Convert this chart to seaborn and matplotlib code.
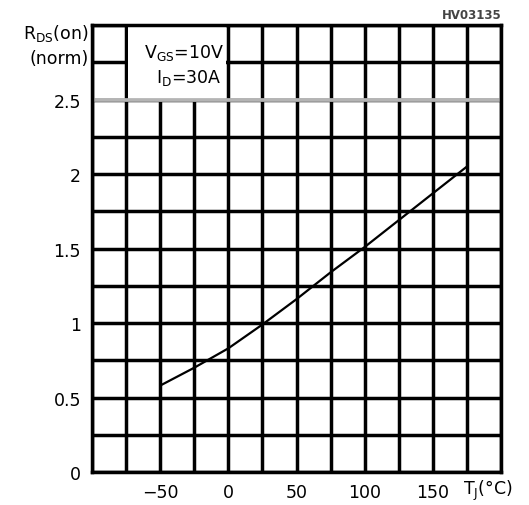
import numpy as np
import pandas as pd
import seaborn as sns
import matplotlib.pyplot as plt
from matplotlib.patches import Rectangle

# normalized on-resistance vs junction temperature
temp_c = [-50, -25, 0, 25, 50, 75, 100, 125, 150, 175]
rds_norm = [0.58, 0.70, 0.83, 0.99, 1.16, 1.34, 1.51, 1.69, 1.87, 2.05]

x_ticks = [-50, 0, 50, 100, 150]
y_ticks = [0, 0.5, 1, 1.5, 2, 2.5]
y_labels = ['0', '0.5', '1', '1.5', '2', '2.5']

sns.set_style('white')
plt.rcParams['font.family'] = ['DejaVu Sans']
plt.rcParams['text.color'] = 'black'
plt.rcParams['xtick.color'] = 'black'
plt.rcParams['ytick.color'] = 'black'

fig = plt.figure(figsize=(5.29, 5.06), dpi=100)
ax = fig.add_axes([0.1739, 0.0652, 0.7732, 0.8834])

dados = pd.DataFrame({'Tj': temp_c, 'Rds': rds_norm})
sns.lineplot(data=dados, x='Tj', y='Rds', color='black', linewidth=1.6, ax=ax, zorder=3)

ax.set_xlim(-100, 200)
ax.set_ylim(0, 3.0)
ax.set_xticks(x_ticks)
ax.set_xticks(np.arange(-100, 201, 25), minor=True)
ax.set_yticks(y_ticks)
ax.set_yticklabels(y_labels)
ax.set_yticks(np.arange(0, 3.01, 0.25), minor=True)
ax.tick_params(which='both', length=0, labelsize=12.5, pad=8, labelcolor='black')
ax.set_axisbelow(True)
ax.grid(which='both', color='black', linewidth=2.5)
for s in ax.spines.values():
    s.set_linewidth(2.5)
    s.set_color('black')
ax.set_xlabel('')
ax.set_ylabel('')

# white box behind the test conditions
ax.add_patch(Rectangle((-73.5, 2.5), 72, 0.5, facecolor='white', edgecolor='none', zorder=1))
ax.axhline(2.5, color='#b4b4b4', linewidth=2.7, zorder=2)

ax.text(-3, 2.82, r'V$_\mathrm{GS}$=10V', ha='right', va='center', fontsize=12.5)
ax.text(-5, 2.65, r'I$_\mathrm{D}$=30A', ha='right', va='center', fontsize=12.5)

fig.text(0.168, 0.910, 'R$_\\mathrm{DS}$(on)\n(norm)', ha='right', va='center', fontsize=12.5, linespacing=1.45)
fig.text(0.97, 0.03, r'T$_\mathrm{J}$(°C)', ha='right', va='center', fontsize=12.5)
fig.text(0.948, 0.97, 'HV03135', ha='right', va='center', fontsize=8.5, color='#444444', fontweight='bold')

plt.savefig('out.png', dpi=100)
